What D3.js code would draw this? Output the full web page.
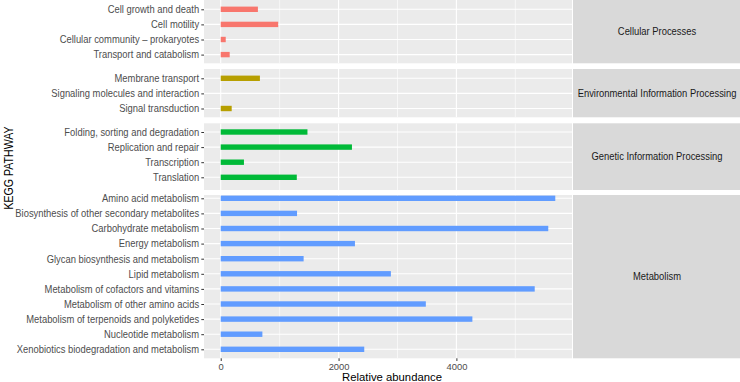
<!DOCTYPE html>
<html>
<head>
<meta charset="utf-8">
<script src="https://cdn.jsdelivr.net/npm/d3@7"></script>
<style>
  body { margin: 0; background: #fff; }
  text { font-family: "Liberation Sans", Arial, sans-serif; }
</style>
</head>
<body>
<svg id="chart" width="740" height="382"></svg>
<script>
// categories (facets) and their colours
const categories = ["Cellular Processes", "Environmental Information Processing",
  "Genetic Information Processing", "Metabolism"];
const colors = ["#F8766D", "#B79F00", "#00BA38", "#619CFF"];

// pathways and relative abundance, per category
const cellularPathways = ["Cell growth and death", "Cell motility",
  "Cellular community \u2013 prokaryotes", "Transport and catabolism"];
const cellularValues = [631, 975, 85, 152];

const envPathways = ["Membrane transport", "Signaling molecules and interaction",
  "Signal transduction"];
const envValues = [665, 0, 186];

const geneticPathways = ["Folding, sorting and degradation", "Replication and repair",
  "Transcription", "Translation"];
const geneticValues = [1472, 2227, 394, 1291];

const metabolismPathways = ["Amino acid metabolism",
  "Biosynthesis of other secondary metabolites", "Carbohydrate metabolism",
  "Energy metabolism", "Glycan biosynthesis and metabolism", "Lipid metabolism",
  "Metabolism of cofactors and vitamins", "Metabolism of other amino acids",
  "Metabolism of terpenoids and polyketides", "Nucleotide metabolism",
  "Xenobiotics biodegradation and metabolism"];
const metabolismValues = [5678, 1295, 5559, 2278, 1407, 2888, 5329, 3481, 4271, 707, 2436];

const xTicks = [0, 2000, 4000];
const xMinor = [1000, 3000, 5000];

const groups = [
  {name: categories[0], pathways: cellularPathways, values: cellularValues, color: colors[0]},
  {name: categories[1], pathways: envPathways, values: envValues, color: colors[1]},
  {name: categories[2], pathways: geneticPathways, values: geneticValues, color: colors[2]},
  {name: categories[3], pathways: metabolismPathways, values: metabolismValues, color: colors[3]}
];

// panel layout (top, bottom, first row centre)
const layout = [
  {top: 0, bottom: 63.3, first: 9.3},
  {top: 69, bottom: 117.3, first: 78.3},
  {top: 123.3, bottom: 190, first: 132},
  {top: 195, bottom: 358.3, first: 198.3}
];
const rowStep = 15.1;
const panelLeft = 204, panelRight = 572, stripRight = 740;
const textStretch = "scale(1,1.1)";

const svg = d3.select("#chart");

const maxVal = d3.max(groups.flatMap(g => g.values));
const x = d3.scaleLinear()
  .domain([-0.05 * maxVal, maxVal * 1.05])
  .range([panelLeft, panelRight]);

groups.forEach(function(g, i){
  const L = layout[i];
  const y = d3.scalePoint()
    .domain(g.pathways)
    .range([L.first, L.first + (g.pathways.length - 1) * rowStep]);

  const panel = svg.append("g").attr("class", "panel");
  const clipId = "clip" + i;
  svg.append("clipPath").attr("id", clipId)
    .append("rect")
    .attr("x", panelLeft).attr("y", L.top)
    .attr("width", panelRight - panelLeft).attr("height", L.bottom - L.top);

  panel.append("rect")
    .attr("x", panelLeft).attr("y", L.top)
    .attr("width", panelRight - panelLeft).attr("height", L.bottom - L.top)
    .attr("fill", "#EBEBEB");

  const inner = panel.append("g").attr("clip-path", `url(#${clipId})`);

  // minor vertical grid
  inner.selectAll("line.minor").data(xMinor).join("line")
    .attr("x1", d => x(d)).attr("x2", d => x(d))
    .attr("y1", L.top).attr("y2", L.bottom)
    .attr("stroke", "#fff").attr("stroke-width", 0.6);
  // major vertical grid
  inner.selectAll("line.majx").data(xTicks).join("line")
    .attr("x1", d => x(d)).attr("x2", d => x(d))
    .attr("y1", L.top).attr("y2", L.bottom)
    .attr("stroke", "#fff").attr("stroke-width", 1.1);
  // horizontal grid
  inner.selectAll("line.majy").data(g.pathways).join("line")
    .attr("x1", panelLeft).attr("x2", panelRight)
    .attr("y1", d => y(d)).attr("y2", d => y(d))
    .attr("stroke", "#fff").attr("stroke-width", 1.1);

  // bars
  const barH = 5.4;
  inner.selectAll("rect.bar").data(g.pathways).join("rect")
    .attr("class", "bar")
    .attr("x", x(0))
    .attr("y", d => y(d) - barH / 2)
    .attr("width", (d, j) => x(g.values[j]) - x(0))
    .attr("height", barH)
    .attr("fill", g.color);

  // y axis
  const yAxis = d3.axisLeft(y).tickSize(2.7).tickPadding(2.2);
  const ax = svg.append("g")
    .attr("transform", `translate(${panelLeft},0)`)
    .call(yAxis);
  ax.select(".domain").remove();
  ax.selectAll(".tick line").attr("stroke", "#333").attr("stroke-width", 1);
  ax.selectAll(".tick text")
    .attr("fill", "#4D4D4D")
    .attr("transform", textStretch)
    .style("font-size", "9.4px");

  // strip
  svg.append("rect")
    .attr("x", panelRight + 1).attr("y", L.top)
    .attr("width", stripRight - panelRight - 1).attr("height", L.bottom - L.top)
    .attr("fill", "#D9D9D9");
  svg.append("text")
    .attr("transform", `translate(${(panelRight + 1 + stripRight) / 2 + 0.5},${(L.top + L.bottom) / 2}) ${textStretch}`)
    .attr("dy", "0.35em")
    .attr("text-anchor", "middle")
    .attr("fill", "#1A1A1A")
    .style("font-size", "9.4px")
    .text(g.name);
});

// x axis
const bottom = layout[layout.length - 1].bottom;
const xAxis = d3.axisBottom(x).tickValues(xTicks).tickSize(2.7).tickPadding(2.2)
  .tickFormat(d3.format("d"));
const xa = svg.append("g")
  .attr("transform", `translate(0,${bottom})`)
  .call(xAxis);
xa.select(".domain").remove();
xa.selectAll(".tick line").attr("stroke", "#333");
xa.selectAll(".tick text").attr("fill", "#4D4D4D").style("font-size", "9.4px");

// axis titles
svg.append("text")
  .attr("x", (panelLeft + panelRight) / 2 + 4)
  .attr("y", 380.5)
  .attr("text-anchor", "middle")
  .attr("fill", "#000")
  .style("font-size", "11.3px")
  .text("Relative abundance");

svg.append("text")
  .attr("transform", "translate(12.5,168) rotate(-90) scale(1,1.15)")
  .attr("text-anchor", "middle")
  .attr("fill", "#000")
  .style("font-size", "10.6px")
  .text("KEGG PATHWAY");
</script>
</body>
</html>
